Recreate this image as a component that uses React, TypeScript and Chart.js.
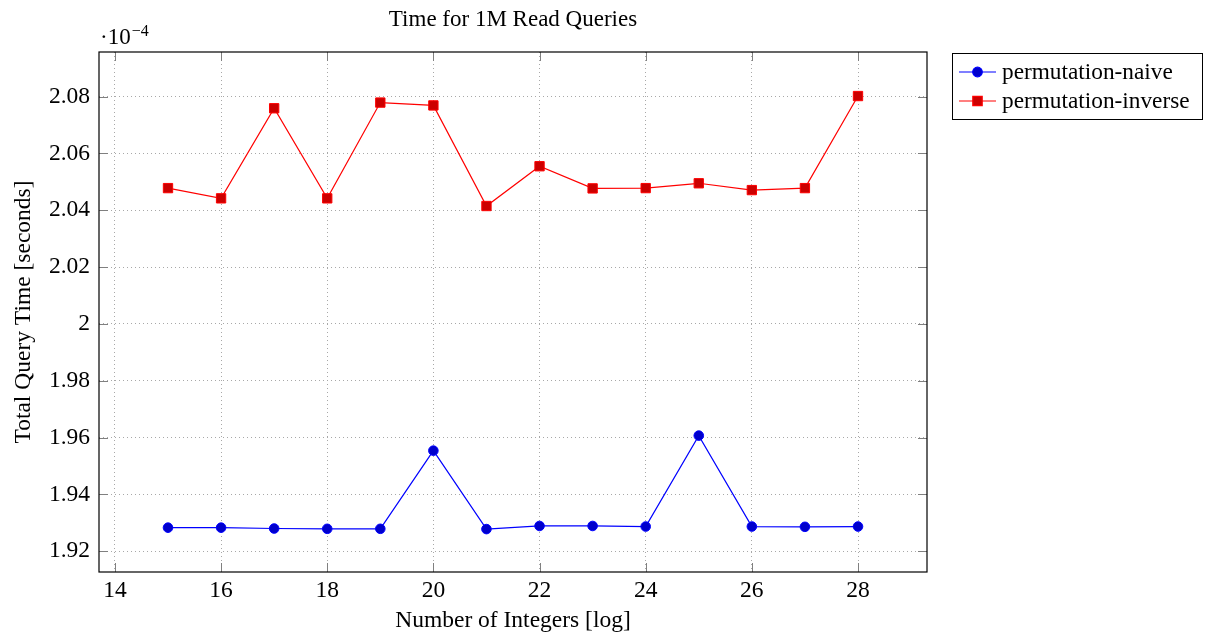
import React, { useEffect, useRef } from "react";
import { Chart, registerables } from "chart.js";

Chart.register(...registerables);

// x: log2 of number of integers
const xValues = [15, 16, 17, 18, 19, 20, 21, 22, 23, 24, 25, 26, 27, 28];
// y values in units of 1e-4 seconds
const naiveValues = [
  1.9283, 1.9283, 1.928, 1.9279, 1.9279, 1.9554, 1.9278, 1.9289, 1.9289, 1.9287,
  1.9607, 1.9287, 1.9286, 1.9287,
];
const inverseValues = [
  2.0478, 2.0442, 2.0759, 2.0442, 2.0779, 2.0769, 2.0415, 2.0555, 2.0477, 2.0478,
  2.0495, 2.0471, 2.0478, 2.0802,
];
const xTicks = [14, 16, 18, 20, 22, 24, 26, 28];
const yTicks = [1.92, 1.94, 1.96, 1.98, 2.0, 2.02, 2.04, 2.06, 2.08];
const seriesNames = ["permutation-naive", "permutation-inverse"];
const titleText = "Time for 1M Read Queries";
const xTitle = "Number of Integers [log]";
const yTitle = "Total Query Time [seconds]";

const FONT = "Liberation Serif, 'Times New Roman', serif";
const BLUE = "#0000ff";
const BLUE_FILL = "rgb(0,0,204)";
const RED = "#ff0000";
const RED_FILL = "rgb(204,0,0)";

const decorPlugin = {
  id: "decor",
  beforeDatasetsDraw(chart: any) {
    const { ctx, chartArea: a, scales } = chart;
    ctx.save();
    ctx.strokeStyle = "#808080";
    ctx.lineWidth = 1;
    const tl = 9;
    for (const v of xTicks) {
      const x = Math.round(scales.x.getPixelForValue(v)) + 0.5;
      ctx.beginPath();
      ctx.moveTo(x, a.bottom);
      ctx.lineTo(x, a.bottom - tl);
      ctx.moveTo(x, a.top);
      ctx.lineTo(x, a.top + tl);
      ctx.stroke();
    }
    for (const v of yTicks) {
      const y = Math.round(scales.y.getPixelForValue(v)) + 0.5;
      ctx.beginPath();
      ctx.moveTo(a.left, y);
      ctx.lineTo(a.left + tl, y);
      ctx.moveTo(a.right, y);
      ctx.lineTo(a.right - tl, y);
      ctx.stroke();
    }
    ctx.restore();
  },
  afterDraw(chart: any) {
    const { ctx, chartArea: a } = chart;
    ctx.save();
    // frame
    ctx.strokeStyle = "#000";
    ctx.lineWidth = 1.2;
    ctx.strokeRect(a.left, a.top, a.right - a.left, a.bottom - a.top);

    ctx.fillStyle = "#000";
    // title
    ctx.font = `23px ${FONT}`;
    ctx.textAlign = "center";
    ctx.textBaseline = "alphabetic";
    const cx = (a.left + a.right) / 2;
    ctx.fillText(titleText, cx, 26);
    // x title
    ctx.font = `23.5px ${FONT}`;
    ctx.fillText(xTitle, cx, 627);
    // y title
    ctx.save();
    ctx.translate(30, (a.top + a.bottom) / 2);
    ctx.rotate(-Math.PI / 2);
    ctx.fillText(yTitle, 0, 0);
    ctx.restore();
    // exponent
    ctx.textAlign = "left";
    ctx.font = `23px ${FONT}`;
    ctx.fillText("·10", 100, 44);
    const w = ctx.measureText("·10").width;
    ctx.font = `16px ${FONT}`;
    ctx.fillText("−4", 100 + w + 1, 36);

    // legend
    const lx = 952, ly = 53, lw = 250, lh = 66;
    ctx.strokeStyle = "#000";
    ctx.lineWidth = 1;
    ctx.strokeRect(lx + 0.5, ly + 0.5, lw, lh);
    const rows = [
      { y: 72, color: BLUE, fill: BLUE_FILL, shape: "circle", name: seriesNames[0] },
      { y: 101, color: RED, fill: RED_FILL, shape: "rect", name: seriesNames[1] },
    ];
    ctx.font = `23.3px ${FONT}`;
    ctx.textBaseline = "middle";
    for (const r of rows) {
      ctx.strokeStyle = r.color;
      ctx.lineWidth = 1.2;
      ctx.beginPath();
      ctx.moveTo(959, r.y);
      ctx.lineTo(996, r.y);
      ctx.stroke();
      ctx.fillStyle = r.fill;
      ctx.beginPath();
      if (r.shape === "circle") {
        ctx.arc(977.5, r.y, 4.8, 0, Math.PI * 2);
      } else {
        ctx.rect(977.5 - 4.7, r.y - 4.7, 9.4, 9.4);
      }
      ctx.fill();
      ctx.stroke();
      ctx.fillStyle = "#000";
      ctx.fillText(r.name, 1002, r.y + 1);
    }
    ctx.restore();
  },
};

export default function App() {
  const ref = useRef<HTMLCanvasElement | null>(null);
  useEffect(() => {
    document.body.style.margin = "0";
    const canvas = ref.current!;
    const chart = new Chart(canvas, {
      type: "line",
      data: {
        datasets: [
          {
            label: seriesNames[0],
            data: xValues.map((x, i) => ({ x, y: naiveValues[i] })),
            borderColor: BLUE,
            backgroundColor: BLUE_FILL,
            pointBackgroundColor: BLUE_FILL,
            pointBorderColor: BLUE,
            pointBorderWidth: 1,
            pointStyle: "circle",
            pointRadius: 4.8,
            borderWidth: 1.2,
            tension: 0,
          },
          {
            label: seriesNames[1],
            data: xValues.map((x, i) => ({ x, y: inverseValues[i] })),
            borderColor: RED,
            backgroundColor: RED_FILL,
            pointBackgroundColor: RED_FILL,
            pointBorderColor: RED,
            pointBorderWidth: 1,
            pointStyle: "rect",
            pointRadius: 6.6,
            borderWidth: 1.2,
            tension: 0,
          },
        ],
      },
      options: {
        animation: false,
        responsive: false,
        devicePixelRatio: 1,
        layout: { padding: { left: 0, top: 52, right: 279, bottom: 0 }, autoPadding: false },
        plugins: { legend: { display: false }, title: { display: false }, tooltip: { enabled: false } },
        scales: {
          x: {
            type: "linear",
            min: 13.7,
            max: 29.3,
            afterBuildTicks: (s: any) => {
              s.ticks = xTicks.map((v) => ({ value: v }));
            },
            afterFit: (s: any) => {
              s.height = 66;
            },
            grid: {
              color: "#a8a8a8",
              lineWidth: 1,
              drawTicks: false,
            },
            border: { display: false, dash: [1, 3] },
            ticks: {
              color: "#000",
              font: { family: FONT, size: 23.5 },
              padding: 5,
              maxRotation: 0,
              callback: (v: any) => String(v),
            },
          },
          y: {
            type: "linear",
            min: 1.9127,
            max: 2.0957,
            afterBuildTicks: (s: any) => {
              s.ticks = yTicks.map((v) => ({ value: v }));
            },
            afterFit: (s: any) => {
              s.width = 99;
            },
            grid: {
              color: "#a8a8a8",
              lineWidth: 1,
              drawTicks: false,
            },
            border: { display: false, dash: [1, 3] },
            ticks: {
              color: "#000",
              font: { family: FONT, size: 23.5 },
              padding: 9,
              callback: (v: any) => String(Number(Number(v).toFixed(2))),
            },
          },
        },
      },
      plugins: [decorPlugin],
    } as any);
    return () => chart.destroy();
  }, []);
  return (
    <div style={{ width: 1206, height: 638 }}>
      <canvas ref={ref} width={1206} height={638} style={{ display: "block" }} />
    </div>
  );
}
